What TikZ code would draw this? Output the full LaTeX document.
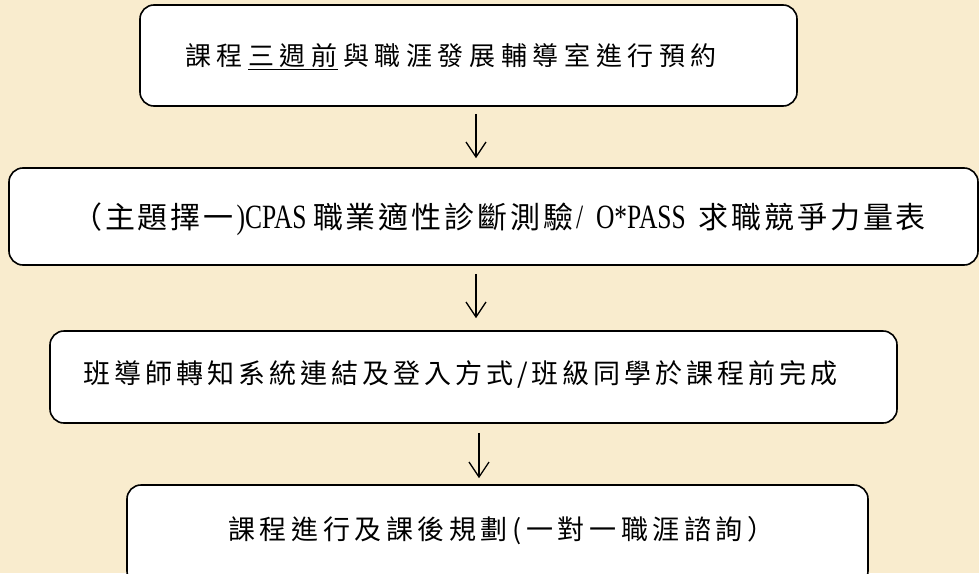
\documentclass[tikz,border=0pt]{standalone}
\usepackage{fontspec}
\usetikzlibrary{arrows.meta}
\setmainfont{Noto Sans CJK TC}
\newfontfamily\latf[FakeStretch=0.75]{Liberation Serif}
\definecolor{parch}{RGB}{249,236,206}
\newdimen\cjkgap
\def\spc#1{\spcx#1\relax}
\def\spcx#1{\ifx#1\relax\else#1\hskip\cjkgap\expandafter\spcx\fi}
\tikzset{
  box/.style={draw=black, line width=1.6pt, fill=white, rounded corners=14pt, inner sep=0pt},
  lbl/.style={anchor=west, inner sep=0pt, text=black},
  arr/.style={-{Straight Barb[length=15pt,width=20pt]}, line width=1.3pt, black}
}
\begin{document}
\begin{tikzpicture}[x=1pt,y=-1pt]
\fill[parch] (0,0) rectangle (979,573);
\useasboundingbox (0,0) rectangle (979,573);
% boxes
\node[box, minimum width=657pt, minimum height=101pt] (b1) at (468.5,55.5) {};
\node[box, minimum width=969pt, minimum height=97pt] (b2) at (493.5,216.5) {};
\node[box, minimum width=847pt, minimum height=92pt] (b3) at (473.5,377) {};
\node[box, minimum width=741pt, minimum height=100pt] (b4) at (497.5,535) {};
% texts
\node[lbl] (t1) at (185,57) {\cjkgap=5.6pt\fontsize{26pt}{28pt}\selectfont \spc{課程}\underline{三\hskip\cjkgap 週\hskip\cjkgap 前}\hskip\cjkgap\spc{與職涯發展輔導室進行預約}};
\node[lbl] (t2) at (72,219) {\cjkgap=2.9pt\fontsize{30pt}{32pt}\selectfont \spc{（主題擇一}{\latf\fontsize{34pt}{34pt}\selectfont )CPAS }\spc{職業適性診斷測驗}{\latf\fontsize{34pt}{34pt}\selectfont /\ \ O*PASS\ \ }\spc{求職競爭力量表}};
\node[lbl] (t3) at (83,374) {\cjkgap=4pt\fontsize{27pt}{29pt}\selectfont \spc{班導師轉知系統連結及登入方式/班級同學於課程前完成}};
\node[lbl] (t4) at (228,531) {\cjkgap=4.6pt\fontsize{27pt}{29pt}\selectfont \spc{課程進行及課後規劃(一對一職涯諮詢）}};
% arrows
\coordinate (x1) at (476,0);
\coordinate (x3) at (479,0);
\draw[arr, shorten <=7pt, shorten >=9pt] (b1.south -| x1) -- (b2.north -| x1);
\draw[arr, shorten <=8pt, shorten >=12pt] (b2.south -| x1) -- (b3.north -| x1);
\draw[arr, shorten <=9pt, shorten >=6pt] (b3.south -| x3) -- (b4.north -| x3);
\end{tikzpicture}
\end{document}
